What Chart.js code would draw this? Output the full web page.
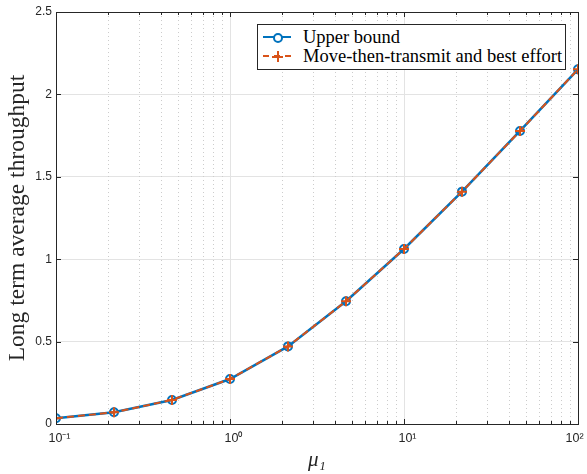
<!DOCTYPE html>
<html>
<head>
<meta charset="utf-8">
<script src="https://cdn.jsdelivr.net/npm/chart.js@4.4.1/dist/chart.umd.min.js"></script>
<style>
  html, body { margin: 0; padding: 0; background: #fff; }
  #wrap { position: relative; width: 587px; height: 474px; }
  #legend {
    position: absolute; left: 257px; top: 24px; width: 307px; height: 44px;
    border: 1px solid #262626; background: #fff;
    font-family: 'Liberation Serif', serif; font-size: 18.5px; color: #000;
  }
  #legend .row { position: absolute; left: 5px; height: 18px; line-height: 18px; white-space: nowrap; }
  #legend .sample { position: absolute; left: 0; top: 8px; width: 28px; height: 0; }
  #legend .txt { position: absolute; left: 40px; top: 0; }
</style>
</head>
<body>
<div id="wrap">
  <canvas id="chart" width="587" height="474"></canvas>
  <div id="legend">
    <div class="row" style="top:3px">
      <span class="sample" style="border-top:2.5px solid #0072BD"></span>
      <span style="position:absolute;left:10px;top:5px;width:6px;height:6px;border:2px solid #0072BD;border-radius:50%;background:#fff"></span>
      <span class="txt">Upper bound</span>
    </div>
    <div class="row" style="top:22px">
      <span class="sample" style="border-top:2px dashed #D95319"></span>
      <span style="position:absolute;left:9px;top:8.5px;width:11px;height:2px;background:#D95319"></span>
      <span style="position:absolute;left:13.5px;top:4px;width:2px;height:11px;background:#D95319"></span>
      <span class="txt">Move-then-transmit and best effort</span>
    </div>
  </div>
</div>
<script>
// values
var mu = [0.1, 0.2154, 0.4642, 1, 2.154, 4.642, 10, 21.54, 46.42, 100];
var upperBound = [0.035, 0.071, 0.146, 0.273, 0.471, 0.745, 1.062, 1.41, 1.778, 2.152];
var moveThenTransmit = [0.035, 0.071, 0.146, 0.273, 0.471, 0.745, 1.062, 1.41, 1.778, 2.152];
var xMajor = [0.1, 1, 10, 100];
var xTickLabels = ['10\u207B\u00B9', '10\u2070', '10\u00B9', '10\u00B2'];
var yTicks = [0, 0.5, 1, 1.5, 2, 2.5];

var BLUE = '#0072BD';
var ORANGE = '#D95319';
var AXIS = '#262626';

function pts(ys) {
  return mu.map(function (x, i) { return { x: x, y: ys[i] }; });
}

// minor dotted grid, box and inward ticks
var framePlugin = {
  id: 'frame',
  beforeDatasetsDraw: function (chart) {
    var ctx = chart.ctx, a = chart.chartArea, xs = chart.scales.x;
    ctx.save();
    ctx.strokeStyle = '#cccccc';
    ctx.lineWidth = 1;
    ctx.setLineDash([1, 3]);
    for (var d = 0.1; d < 100; d *= 10) {
      for (var k = 2; k <= 9; k++) {
        var px = Math.round(xs.getPixelForValue(d * k)) + 0.5;
        ctx.beginPath(); ctx.moveTo(px, a.top); ctx.lineTo(px, a.bottom); ctx.stroke();
      }
    }
    ctx.restore();
  },
  afterDraw: function (chart) {
    var ctx = chart.ctx, a = chart.chartArea, xs = chart.scales.x, ys = chart.scales.y;
    ctx.save();
    ctx.strokeStyle = AXIS;
    ctx.lineWidth = 1;
    ctx.strokeRect(Math.round(a.left) + 0.5, Math.round(a.top) + 0.5,
      Math.round(a.right - a.left), Math.round(a.bottom - a.top));
    ctx.beginPath();
    for (var d = 0.1; d <= 100; d *= 10) {
      for (var k = 1; k <= 9; k++) {
        var v = d * k;
        if (v > 100.001) break;
        var px = Math.round(xs.getPixelForValue(v)) + 0.5;
        var len = k === 1 ? 5 : 3;
        ctx.moveTo(px, a.bottom); ctx.lineTo(px, a.bottom - len);
        ctx.moveTo(px, a.top); ctx.lineTo(px, a.top + len);
      }
    }
    yTicks.forEach(function (t) {
      var py = Math.round(ys.getPixelForValue(t)) + 0.5;
      ctx.moveTo(a.left, py); ctx.lineTo(a.left + 5, py);
      ctx.moveTo(a.right, py); ctx.lineTo(a.right - 5, py);
    });
    ctx.stroke();
    ctx.restore();
  }
};

new Chart(document.getElementById('chart'), {
  type: 'line',
  data: {
    datasets: [
      {
        label: 'Move-then-transmit and best effort',
        data: pts(moveThenTransmit),
        borderColor: ORANGE,
        borderWidth: 2,
        borderDash: [7, 4],
        pointStyle: 'cross',
        pointRadius: 5,
        pointBorderWidth: 2,
        pointBorderColor: ORANGE,
        fill: false,
        order: 0
      },
      {
        label: 'Upper bound',
        data: pts(upperBound),
        borderColor: BLUE,
        borderWidth: 2.5,
        pointStyle: 'circle',
        pointRadius: 4,
        pointBorderWidth: 2,
        pointBorderColor: BLUE,
        pointBackgroundColor: 'rgba(0,0,0,0)',
        fill: false,
        order: 1
      }
    ]
  },
  options: {
    responsive: false,
    animation: false,
    layout: { padding: { top: 12, right: 0, left: 0, bottom: 0 } },
    plugins: { legend: { display: false }, tooltip: { enabled: false } },
    scales: {
      x: {
        type: 'logarithmic',
        min: 0.1,
        max: 100,
        afterBuildTicks: function (s) {
          s.ticks = xMajor.map(function (v) { return { value: v }; });
        },
        afterFit: function (s) {
          s.height = 50;
          s.paddingRight = 9;
          s.paddingLeft = 0;
        },
        ticks: {
          autoSkip: false,
          maxRotation: 0,
          padding: 7,
          color: AXIS,
          font: { family: 'Liberation Sans', size: 12.5 },
          callback: function (v) {
            var i = xMajor.indexOf(v);
            if (i < 0) return '';
            // base "10" sits on the tick, the exponent hangs to the right
            return i === xMajor.length - 1 ? xTickLabels[i] + '  ' : '  ' + xTickLabels[i];
          }
        },
        grid: { color: '#e3e3e3', drawTicks: false },
        border: { display: false },
        title: {
          display: true,
          text: '\u03BC\u2081',
          color: AXIS,
          padding: { top: 0, bottom: 1 },
          font: { family: 'Liberation Serif', size: 21, style: 'italic' }
        }
      },
      y: {
        min: 0,
        max: 2.5,
        afterBuildTicks: function (s) {
          s.ticks = yTicks.map(function (v) { return { value: v }; });
        },
        afterFit: function (s) { s.width = 56; },
        ticks: {
          padding: 4,
          color: AXIS,
          font: { family: 'Liberation Sans', size: 12 },
          callback: function (v) { return String(v); }
        },
        grid: { color: '#e3e3e3', drawTicks: false },
        border: { display: false },
        title: {
          display: true,
          text: 'Long term average throughput',
          color: AXIS,
          padding: { top: 4, bottom: 0 },
          font: { family: 'Liberation Serif', size: 23.5 }
        }
      }
    }
  },
  plugins: [framePlugin]
});
</script>
</body>
</html>
